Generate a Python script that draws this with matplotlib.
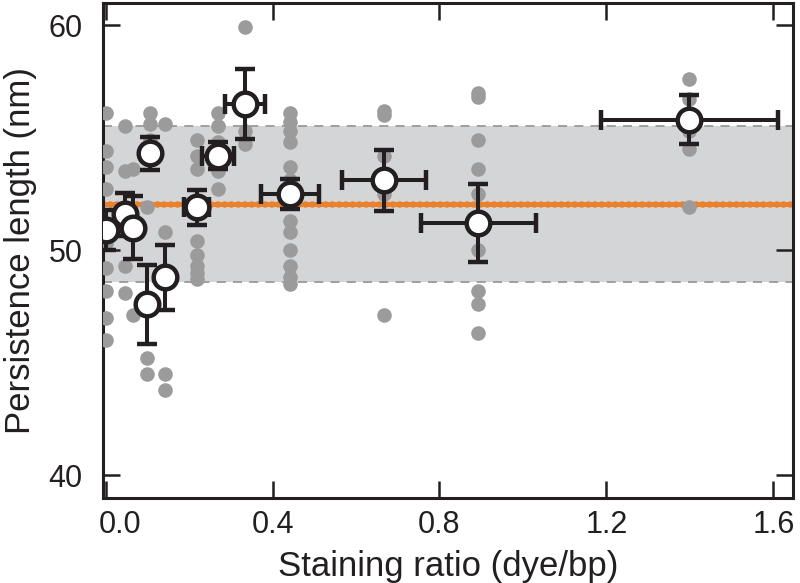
import matplotlib
matplotlib.use('Agg')
import matplotlib.pyplot as plt
import matplotlib.transforms as mtransforms

plt.rcParams['font.family'] = ['Liberation Sans', 'DejaVu Sans']

# ---- data ----
staining_ratio = [0.0, 0.046, 0.065, 0.099, 0.106, 0.142, 0.218, 0.27, 0.334, 0.442, 0.667, 0.893, 1.399]
ratio_err = [0.005, 0.005, 0.005, 0.005, 0.005, 0.005, 0.03, 0.038, 0.048, 0.07, 0.10, 0.138, 0.211]
lp_mean = [50.9, 51.6, 51.0, 47.6, 54.3, 48.8, 51.9, 54.2, 56.5, 52.5, 53.1, 51.2, 55.8]
lp_err = [0.9, 0.95, 1.4, 1.75, 0.74, 1.45, 0.78, 0.6, 1.55, 0.67, 1.36, 1.72, 1.1]

lp_raw = [
    [56.1, 54.4, 53.7, 52.7, 50.3, 49.2, 48.2, 47.0, 46.0],
    [55.5, 53.5, 49.3, 48.1],
    [53.6, 47.1],
    [51.9, 45.2, 44.5],
    [56.1, 55.6, 54.9],
    [55.6, 50.8, 44.5, 43.8],
    [54.9, 54.2, 53.6, 50.4, 49.8, 49.3, 49.0, 48.7],
    [56.1, 55.5, 54.8, 53.5, 52.7],
    [59.9, 55.3, 54.7],
    [56.1, 55.7, 55.3, 54.8, 53.7, 53.1, 51.3, 50.8, 50.0, 49.3, 48.8, 48.5],
    [56.2, 56.0, 54.2, 52.5, 47.1],
    [57.0, 56.8, 54.9, 53.6, 52.5, 50.0, 48.2, 47.6, 46.3],
    [57.6, 56.7, 56.0, 55.3, 54.5, 51.9],
]

overall_mean = 52.05
overall_sd = 3.45

x_ticks = [0.0, 0.4, 0.8, 1.2, 1.6]
x_ticklabels = ['0.0', '0.4', '0.8', '1.2', '1.6']
y_ticks = [40, 50, 60]

# ---- figure ----
fig = plt.figure(figsize=(8, 5.83), dpi=100)
ax = fig.add_axes([0.129, 0.1463, 0.8627, 0.8491])

ax.axhspan(overall_mean - overall_sd, overall_mean + overall_sd,
           color='#D4D5D7', lw=0, zorder=0)
for yv in (overall_mean - overall_sd, overall_mean + overall_sd):
    ax.axhline(yv, color='#9A9A9A', lw=1.3, ls=(0, (5, 4)), zorder=1)

ax.axhline(overall_mean, color='#E8822E', lw=3.6, zorder=2)
ax.axhline(overall_mean, color='#E8822E', lw=4.8, ls=(0, (0.01, 1.0)),
           dash_capstyle='round', zorder=2)

xs, ys = [], []
for xv, col in zip(staining_ratio, lp_raw):
    for yv in col:
        xs.append(xv)
        ys.append(yv)
ax.scatter(xs, ys, s=110, color='#9B9B9B', lw=0, zorder=3)

ax.errorbar(staining_ratio, lp_mean, yerr=lp_err, xerr=ratio_err, fmt='o',
            mfc='white', mec='#231F20', mew=3.2, ms=17,
            ecolor='#231F20', elinewidth=2.9, capsize=7.5, capthick=2.9,
            zorder=4)

ax.set_xlim(-0.0058, 1.648)
ax.set_ylim(39, 61)
ax.set_xticks(x_ticks)
ax.set_xticklabels(x_ticklabels)
ax.set_yticks(y_ticks)

for sp in ax.spines.values():
    sp.set_linewidth(2.2)
    sp.set_color('#231F20')

ax.tick_params(direction='in', length=12, width=1.8, color='#231F20',
               top=True, right=True, labelsize=22, labelcolor='#231F20')
ax.tick_params(axis='y', pad=15)
ax.tick_params(axis='x', pad=9)

ax.set_xlabel('Staining ratio (dye/bp)', fontsize=25, color='#231F20', labelpad=7)
ax.set_ylabel('Persistence length (nm)', fontsize=25, color='#231F20', labelpad=8)

# shift the first x tick label slightly right, as in the original
lab0 = ax.xaxis.get_major_ticks()[0].label1
lab0.set_transform(lab0.get_transform() +
                   mtransforms.ScaledTranslation(0.14, 0, fig.dpi_scale_trans))

fig.savefig('out.png', dpi=100)
